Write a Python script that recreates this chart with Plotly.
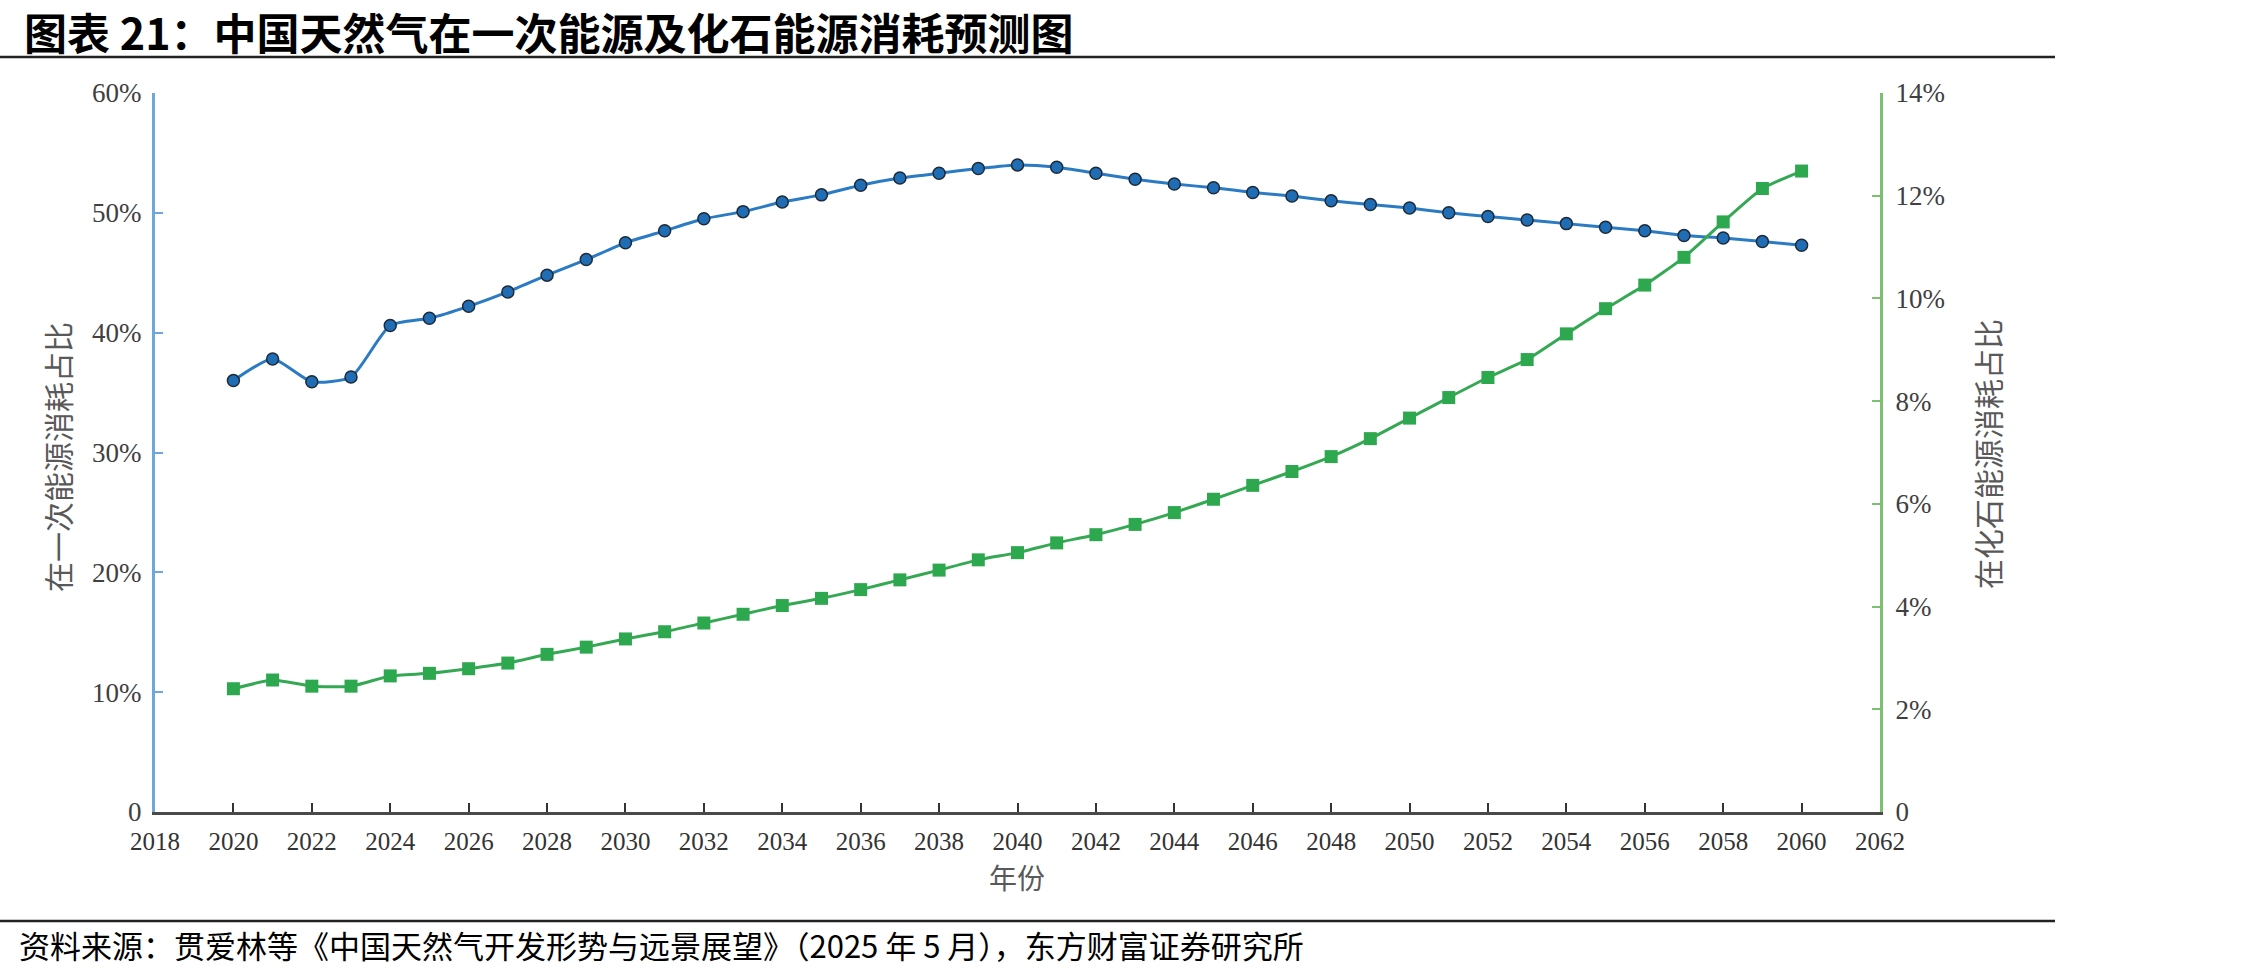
import plotly.graph_objects as go

years = list(range(2020, 2061))
primary_share = [36.0, 37.8, 35.9, 36.3, 40.6, 41.2, 42.2, 43.4, 44.8, 46.1,
                 47.5, 48.5, 49.5, 50.1, 50.9, 51.5, 52.3, 52.9, 53.3, 53.7,
                 54.0, 53.8, 53.3, 52.8, 52.4, 52.1, 51.7, 51.4, 51.0, 50.7,
                 50.4, 50.0, 49.7, 49.4, 49.1, 48.8, 48.5, 48.1, 47.9, 47.6, 47.3]
fossil_share = [2.40, 2.57, 2.45, 2.45, 2.65, 2.70, 2.79, 2.90, 3.07, 3.21,
                3.37, 3.51, 3.68, 3.85, 4.02, 4.16, 4.33, 4.52, 4.71, 4.91,
                5.05, 5.24, 5.40, 5.60, 5.83, 6.09, 6.36, 6.63, 6.92, 7.27,
                7.67, 8.07, 8.46, 8.81, 9.31, 9.80, 10.26, 10.80, 11.49, 12.14, 12.48]
x_ticks = list(range(2018, 2063, 2))
left_ticks = [0, 10, 20, 30, 40, 50, 60]
left_labels = ["0", "10%", "20%", "30%", "40%", "50%", "60%"]
right_ticks = [0, 2, 4, 6, 8, 10, 12, 14]
right_labels = ["0", "2%", "4%", "6%", "8%", "10%", "12%", "14%"]

W, H = 2245, 973
L, R, T, B = 155, 1880, 93, 812


def px(x):
    return (x - L) / (R - L)


def py(y):
    return (B - y) / (B - T)


fig = go.Figure()
fig.add_trace(go.Scatter(
    x=years, y=primary_share, mode="lines+markers", yaxis="y",
    line=dict(color="#2B7BC4", width=3, shape="spline", smoothing=0.6),
    marker=dict(symbol="circle", size=12, color="#1F6EB5",
                line=dict(color="#1E2A38", width=1.5)),
    showlegend=False))
fig.add_trace(go.Scatter(
    x=years, y=fossil_share, mode="lines+markers", yaxis="y2",
    line=dict(color="#35A853", width=3, shape="spline", smoothing=0.5),
    marker=dict(symbol="square", size=13, color="#2EA84F"),
    showlegend=False))

tick_font = dict(family="Liberation Serif", size=27, color="#404040")

fig.update_layout(
    width=W, height=H,
    margin=dict(l=L, r=W - R, t=T, b=H - B, autoexpand=False),
    paper_bgcolor="white", plot_bgcolor="white",
    xaxis=dict(range=[2018, 2062], tickvals=x_ticks, ticktext=[str(v) for v in x_ticks],
               showline=True, linecolor="#4a4a4a", linewidth=3, ticks="inside",
               ticklen=9, tickwidth=1.5, tickcolor="#333", showgrid=False, zeroline=False,
               tickfont=dict(family="Liberation Serif", size=25, color="#333"),
               ticklabelstandoff=5, fixedrange=True),
    yaxis=dict(range=[0, 60], tickvals=left_ticks, ticktext=left_labels,
               showline=True, linecolor="#6FA6DC", linewidth=3, ticks="inside",
               ticklen=8, tickwidth=1.5, tickcolor="#6FA6DC", showgrid=False, zeroline=False,
               tickfont=tick_font, ticklabelstandoff=5),
    yaxis2=dict(range=[0, 14], tickvals=right_ticks, ticktext=right_labels,
                overlaying="y", side="right",
                showline=True, linecolor="#7DC072", linewidth=3, ticks="inside",
                ticklen=8, tickwidth=1.5, tickcolor="#7DC072", showgrid=False, zeroline=False,
                tickfont=tick_font, ticklabelstandoff=7),
    font=dict(family="Noto Sans CJK SC"),
)

ann = []
ann.append(dict(text="<b>图表 21：中国天然气在一次能源及化石能源消耗预测图</b>",
                x=px(22), y=py(31), xref="paper", yref="paper", xanchor="left", yanchor="middle",
                showarrow=False, font=dict(family="Noto Sans CJK SC", size=43, color="#000")))
ann.append(dict(text="资料来源：贯爱林等《中国天然气开发形势与远景展望》（2025 年 5 月），东方财富证券研究所",
                x=px(17), y=py(945), xref="paper", yref="paper", xanchor="left", yanchor="middle",
                showarrow=False, font=dict(family="Noto Sans CJK SC", size=31, color="#000")))
ann.append(dict(text="年份", x=px(1017), y=py(877), xref="paper", yref="paper",
                xanchor="center", yanchor="middle", showarrow=False,
                font=dict(family="Noto Sans CJK SC", size=28, color="#595959")))
ann.append(dict(text="在一次能源消耗占比", x=px(57), y=py(457), xref="paper", yref="paper",
                xanchor="center", yanchor="middle", showarrow=False, textangle=-90,
                font=dict(family="Noto Sans CJK SC", size=30, color="#595959")))
ann.append(dict(text="在化石能源消耗占比", x=px(1987), y=py(454), xref="paper", yref="paper",
                xanchor="center", yanchor="middle", showarrow=False, textangle=-90,
                font=dict(family="Noto Sans CJK SC", size=30, color="#595959")))
fig.update_layout(annotations=ann)

fig.update_layout(shapes=[
    dict(type="line", xref="paper", yref="paper", x0=px(0), x1=px(2055), y0=py(57), y1=py(57),
         line=dict(color="#222", width=2.5)),
    dict(type="line", xref="paper", yref="paper", x0=px(0), x1=px(2055), y0=py(921), y1=py(921),
         line=dict(color="#222", width=2.5)),
])

fig.write_html("out.html")
